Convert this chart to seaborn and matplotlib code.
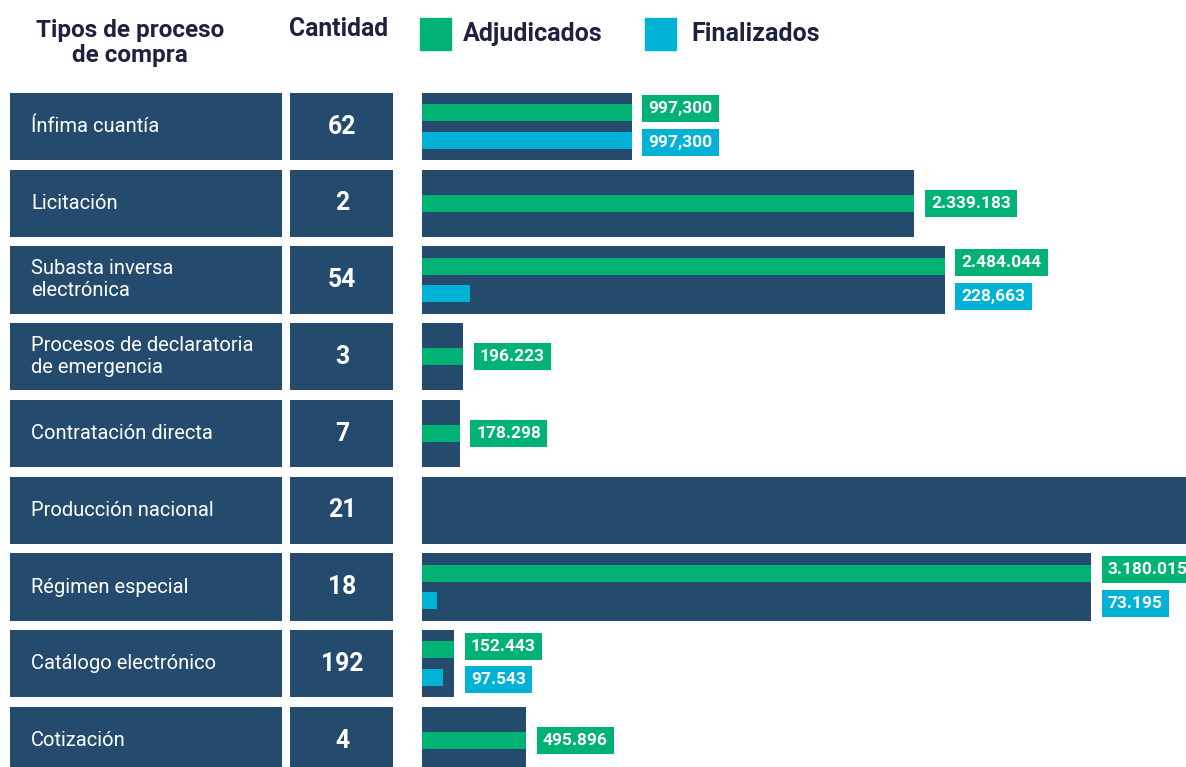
import numpy as np
import pandas as pd
import matplotlib
matplotlib.use("Agg")
import matplotlib.pyplot as plt
from matplotlib.patches import Rectangle
import seaborn as sns

# datos
tipos = ["Ínfima cuantía", "Licitación", "Subasta inversa\nelectrónica",
         "Procesos de declaratoria\nde emergencia", "Contratación directa",
         "Producción nacional", "Régimen especial", "Catálogo electrónico",
         "Cotización"]
cantidad = [62, 2, 54, 3, 7, 21, 18, 192, 4]
adjudicados = [997300, 2339183, 2484044, 196223, 178298, np.nan, 3180015, 152443, 495896]
finalizados = [997300, np.nan, 228663, np.nan, np.nan, np.nan, 73195, 97543, np.nan]
etiq_adj = ["997,300", "2.339.183", "2.484.044", "196.223", "178.298", "",
            "3.180.015", "152.443", "495.896"]
etiq_fin = ["997,300", "", "228,663", "", "", "", "73.195", "97.543", ""]

navy = "#244b6e"
verde = "#00b274"
cian = "#00b2d6"
oscuro = "#1e2240"

W, H = 1186, 767
XMAX = 3630000  # limite del eje de montos

sns.set_theme(style="white")
plt.rcParams["font.family"] = ["Roboto", "DejaVu Sans"]

adj = np.array(adjudicados, dtype=float)
fin = np.array(finalizados, dtype=float)
# barra de fondo: el mayor monto de la fila, o todo el ancho si no hay montos
fondo = np.where(np.isnan(adj) & np.isnan(fin), XMAX, np.fmax(adj, fin))
df = pd.DataFrame({"tipo": tipos, "fondo": fondo})

n = len(tipos)
pitch = 76.75
y_top = -126.5 / pitch
y_bot = (H - 126.5) / pitch

fig = plt.figure(figsize=(W / 100, H / 100), dpi=100)

# tabla izquierda
ax_t = fig.add_axes([0, 0, 400 / W, 1])
ax_t.set_xlim(0, 400)
ax_t.set_ylim(y_bot, y_top)
ax_t.axis("off")
ax_t.barh(range(n), 272, left=10, height=0.873, color=navy, linewidth=0)
ax_t.barh(range(n), 103, left=290, height=0.873, color=navy, linewidth=0)
for i in range(n):
    ax_t.text(31, i, tipos[i], color="white", fontsize=14.5, fontweight="normal",
              ha="left", va="center", linespacing=1.2)
    ax_t.text(342, i, str(cantidad[i]), color="white", fontsize=17.8,
              fontweight="bold", ha="center", va="center")

# barras
ax = fig.add_axes([422 / W, 0, 764 / W, 1])
sns.barplot(data=df, x="fondo", y="tipo", orient="h", color=navy, saturation=1,
            width=0.873, linewidth=0, ax=ax)
ambos = ~np.isnan(adj) & ~np.isnan(fin)
y_adj = np.arange(n) - np.where(ambos, 0.18, 0)
y_fin = np.arange(n) + 0.18
ax.barh(y_adj, np.nan_to_num(adj), height=0.22, color=verde, linewidth=0)
ax.barh(y_fin, np.nan_to_num(fin), height=0.22, color=cian, linewidth=0)
ax.set_xlim(0, XMAX)
ax.set_ylim(y_bot, y_top)
ax.axis("off")

for i in range(n):
    if not np.isnan(adj[i]):
        yy = i - 0.23 if ambos[i] else i
        ax.annotate(etiq_adj[i], (fondo[i], yy), xytext=(12, 0),
                    textcoords="offset points", color="white", fontsize=12.5,
                    fontweight="bold", ha="left", va="center", annotation_clip=False,
                    bbox=dict(boxstyle="square,pad=0.35", fc=verde, ec="none"))
    if not np.isnan(fin[i]):
        ax.annotate(etiq_fin[i], (fondo[i], i + 0.21), xytext=(12, 0),
                    textcoords="offset points", color="white", fontsize=12.5,
                    fontweight="bold", ha="left", va="center", annotation_clip=False,
                    bbox=dict(boxstyle="square,pad=0.35", fc=cian, ec="none"))

# encabezados y leyenda
def px(x, y):
    return x / W, 1 - y / H

fig.text(*px(130, 43), "Tipos de proceso\nde compra", color=oscuro, fontsize=17.5,
         fontweight="bold", ha="center", va="center", linespacing=1.12)
fig.text(*px(339, 29), "Cantidad", color=oscuro, fontsize=17.8,
         fontweight="bold", ha="center", va="center")
for x0, col, lab, xt in [(420, verde, "Adjudicados", 463), (645, cian, "Finalizados", 691)]:
    fig.add_artist(Rectangle(px(x0, 50), 31 / W, 32 / H, color=col,
                             transform=fig.transFigure))
    fig.text(*px(xt, 34), lab, color=oscuro, fontsize=18, fontweight="bold",
             ha="left", va="center")

fig.savefig("out.png", dpi=100, facecolor="white")
